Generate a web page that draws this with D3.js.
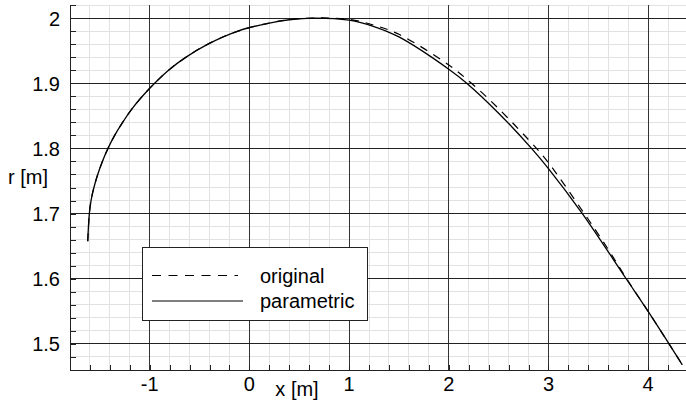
<!DOCTYPE html>
<html>
<head>
<meta charset="utf-8">
<script src="https://cdn.jsdelivr.net/npm/d3@7"></script>
<style>
  body { margin: 0; background: #fff; }
  text { font-family: "Liberation Sans", Arial, sans-serif; fill: #000; }
</style>
</head>
<body>
<div class="chart"></div>
<script>
// curve: x [m] and r [m]
const parametricX = [-1.622, -1.606, -1.589, -1.56, -1.522, -1.475, -1.419, -1.352, -1.272, -1.182, -1.074, -0.951, -0.811, -0.636, -0.416, -0.115, 0.2, 0.4, 0.65, 1.0, 1.25, 1.5, 2.0, 2.18, 2.5, 2.83, 3.0, 3.34, 3.78, 4.0, 4.21, 4.343];
const parametricR = [1.6575, 1.70, 1.72, 1.74, 1.76, 1.78, 1.80, 1.82, 1.84, 1.86, 1.88, 1.90, 1.92, 1.94, 1.96, 1.98, 1.9923, 1.9974, 2.0, 1.9968, 1.987, 1.971, 1.9215, 1.90, 1.854, 1.80, 1.769, 1.70, 1.60, 1.55, 1.50, 1.468];

const originalX = [-1.622, -1.606, -1.589, -1.56, -1.522, -1.475, -1.419, -1.352, -1.272, -1.182, -1.074, -0.951, -0.811, -0.636, -0.416, -0.115, 0.2, 0.4, 0.65, 1.0, 1.25, 1.5, 2.0, 2.227, 2.5, 2.88, 3.0, 3.36, 3.6, 3.78, 4.0, 4.21, 4.343];
const originalR = [1.6575, 1.70, 1.72, 1.74, 1.76, 1.78, 1.80, 1.82, 1.84, 1.86, 1.88, 1.90, 1.92, 1.94, 1.96, 1.98, 1.9923, 1.9974, 2.0, 1.998, 1.989, 1.975, 1.928, 1.90, 1.861, 1.80, 1.778, 1.70, 1.645, 1.601, 1.55, 1.50, 1.468];

const xTicks = [-1, 0, 1, 2, 3, 4];
const yTicks = [1.5, 1.6, 1.7, 1.8, 1.9, 2];
const legendLabels = ["original", "parametric"];

const width = 686, height = 404;
const plotLeft = 70, plotBottom = 370, plotTop = 5, plotRight = 686;

const svg = d3.select(".chart").append("svg")
  .attr("width", width)
  .attr("height", height);

const x = d3.scaleLinear().domain([-1.8, 4.38]).range([plotLeft, plotRight]);
const y = d3.scaleLinear().domain([1.46, 2.02]).range([plotBottom, plotTop]);

const xMinor = d3.range(-1.8, 4.38, 0.2).map(v => +v.toFixed(2));
const yMinor = d3.range(1.46, 2.021, 0.02).map(v => +v.toFixed(2));

// minor grid
const grid = svg.append("g").attr("shape-rendering", "crispEdges");
grid.selectAll(".xminor").data(xMinor).enter().append("line")
  .attr("x1", d => x(d)).attr("x2", d => x(d))
  .attr("y1", plotTop).attr("y2", plotBottom)
  .attr("stroke", "#e2e2e2");
grid.selectAll(".yminor").data(yMinor).enter().append("line")
  .attr("x1", plotLeft).attr("x2", plotRight)
  .attr("y1", d => y(d)).attr("y2", d => y(d))
  .attr("stroke", "#e2e2e2");

// major grid
grid.selectAll(".xmajor").data(xTicks).enter().append("line")
  .attr("x1", d => x(d)).attr("x2", d => x(d))
  .attr("y1", plotTop).attr("y2", plotBottom)
  .attr("stroke", "#333");
grid.selectAll(".ymajor").data(yTicks).enter().append("line")
  .attr("x1", plotLeft).attr("x2", plotRight)
  .attr("y1", d => y(d)).attr("y2", d => y(d))
  .attr("stroke", "#222");

// axes: ticks point inwards
const xAxis = svg.append("g")
  .attr("transform", `translate(0,${plotBottom})`)
  .call(d3.axisTop(x).tickValues(xMinor).tickSize(5).tickFormat(""));
const yAxis = svg.append("g")
  .attr("transform", `translate(${plotLeft},0)`)
  .call(d3.axisRight(y).tickValues(yMinor).tickSize(6).tickFormat(""));
[xAxis, yAxis].forEach(a => {
  a.attr("shape-rendering", "crispEdges");
  a.select(".domain").attr("stroke", "#222");
  a.selectAll(".tick line").attr("stroke", "#222");
});
xAxis.select(".domain").attr("d", `M${plotLeft},0H${plotRight}`);
yAxis.select(".domain").attr("d", `M0,${plotTop}V${plotBottom}`);

// tick labels
svg.append("g").selectAll("text").data(xTicks).enter().append("text")
  .attr("x", d => x(d)).attr("y", 390.5)
  .attr("text-anchor", "middle")
  .style("font-size", "20px")
  .text(d => d);
svg.append("g").selectAll("text").data(yTicks).enter().append("text")
  .attr("x", 60).attr("y", d => y(d) + 7.5)
  .attr("text-anchor", "end")
  .style("font-size", "20px")
  .text(d => d);

svg.append("text").attr("x", 297).attr("y", 396)
  .attr("text-anchor", "middle").style("font-size", "20px").text("x [m]");
svg.append("text").attr("x", 28).attr("y", 184)
  .attr("text-anchor", "middle").style("font-size", "20px").text("r [m]");

// curves
const line = d3.line()
  .x(d => x(d[0]))
  .y(d => y(d[1]))
  .curve(d3.curveCatmullRom.alpha(0.5));

svg.append("path")
  .datum(d3.zip(originalX, originalR))
  .attr("d", line)
  .attr("fill", "none")
  .attr("stroke", "#000")
  .attr("stroke-width", 1.2)
  .attr("stroke-dasharray", "8,7");
svg.append("path")
  .datum(d3.zip(parametricX, parametricR))
  .attr("d", line)
  .attr("fill", "none")
  .attr("stroke", "#000")
  .attr("stroke-width", 1.3);

// legend
const legend = svg.append("g").attr("transform", "translate(142,247.5)");
legend.append("rect")
  .attr("width", 225).attr("height", 72.5)
  .attr("fill", "#fff").attr("stroke", "#222")
  .attr("shape-rendering", "crispEdges");
const items = legend.selectAll(".item").data(legendLabels).enter().append("g")
  .attr("transform", (d, i) => `translate(0,${28 + i * 25.5})`);
items.append("line")
  .attr("x1", 10).attr("x2", (d, i) => i ? 101 : 96)
  .attr("stroke", "#000").attr("stroke-width", 1.2)
  .attr("stroke-dasharray", (d, i) => i ? null : "9,7.5");
items.append("text")
  .attr("x", 118).attr("y", 7)
  .style("font-size", "20px")
  .text(d => d);
</script>
</body>
</html>
